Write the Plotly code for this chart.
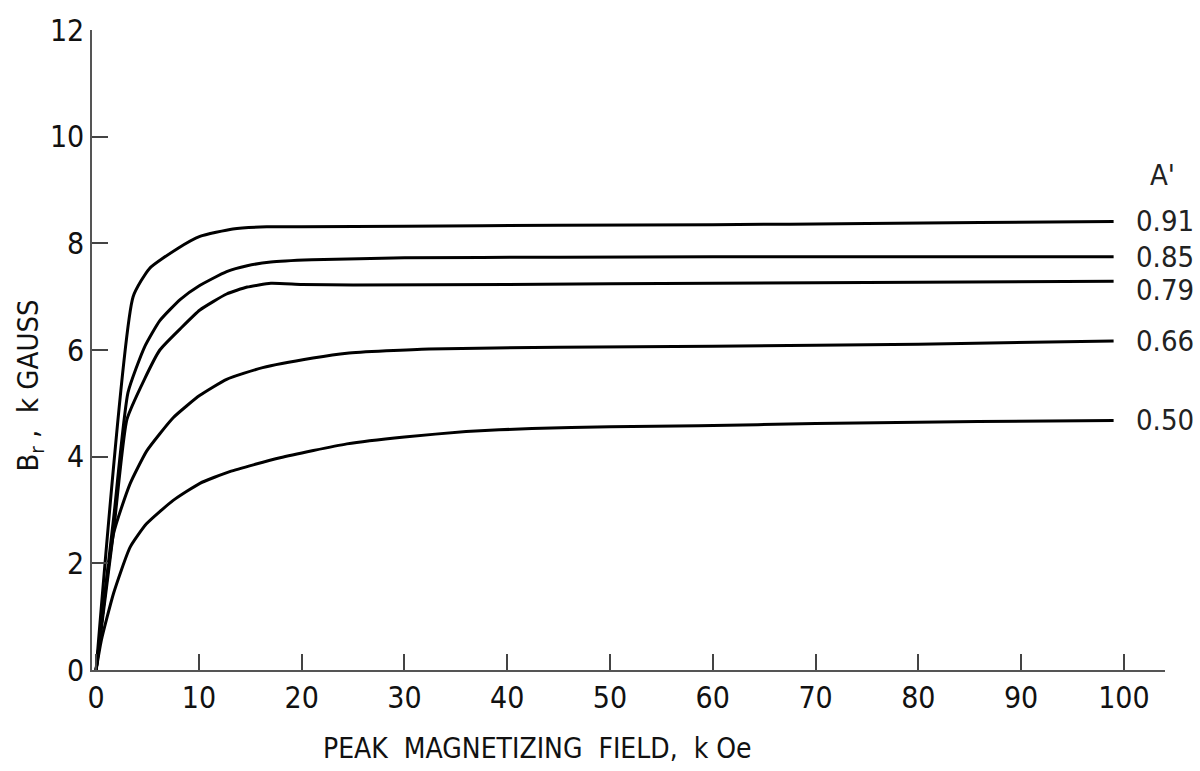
import plotly.graph_objects as go

# Peak magnetizing field (kOe) vs remanence Br (kGauss) for each A'
x_091 = [0, 3.6, 5.2, 7.9, 10.1, 13.3, 16.6, 20, 30, 45, 60, 75, 86, 99]
y_091 = [0, 7.0, 7.53, 7.9, 8.13, 8.27, 8.31, 8.31, 8.32, 8.34, 8.35, 8.37, 8.39, 8.41]

x_085 = [0, 1.7, 3.1, 4.7, 6.2, 8.2, 10, 12.7, 14.7, 17, 21, 30, 45, 60, 80, 99]
y_085 = [0, 2.84, 5.2, 6.05, 6.55, 6.95, 7.2, 7.47, 7.58, 7.65, 7.69, 7.73, 7.74, 7.75, 7.75, 7.75]

x_079 = [0, 1.7, 3.0, 4.7, 6.2, 8.2, 10.1, 12.7, 14.7, 17, 20, 25, 40, 60, 80, 99]
y_079 = [0, 2.6, 4.7, 5.45, 6.0, 6.4, 6.75, 7.05, 7.18, 7.25, 7.23, 7.22, 7.23, 7.25, 7.27, 7.29]

x_066 = [0, 1.7, 3.3, 4.9, 6.2, 7.5, 8.8, 10.1, 12.7, 16.2, 21.1, 24.4, 32.4, 45, 60, 80, 99]
y_066 = [0, 2.56, 3.49, 4.1, 4.43, 4.73, 4.95, 5.15, 5.45, 5.67, 5.85, 5.94, 6.02, 6.05, 6.07, 6.11, 6.17]

x_050 = [0, 0.5, 1.7, 3.3, 4.9, 7.5, 10.1, 13, 17.9, 24.4, 30, 36, 42.4, 50, 58.6, 70, 85.8, 99]
y_050 = [0, 0.55, 1.44, 2.3, 2.74, 3.18, 3.5, 3.72, 3.98, 4.24, 4.37, 4.47, 4.53, 4.56, 4.58, 4.62, 4.66, 4.68]

series_labels = ["0.91", "0.85", "0.79", "0.66", "0.50"]
series_x = [x_091, x_085, x_079, x_066, x_050]
series_y = [y_091, y_085, y_079, y_066, y_050]
label_shift = [0, 0, -9, 0, 0]

x_ticks = [0, 10, 20, 30, 40, 50, 60, 70, 80, 90, 100]
y_ticks = [0, 2, 4, 6, 8, 10, 12]

FONT = "Liberation Sans Narrow, Arial Narrow, DejaVu Sans Condensed, sans-serif"

fig = go.Figure()
for lab, xs, ys in zip(series_labels, series_x, series_y):
    fig.add_trace(go.Scatter(
        x=xs, y=ys, mode="lines", name=lab,
        line=dict(color="black", width=3, shape="spline", smoothing=0.5),
        showlegend=False, hoverinfo="skip"))

for lab, xs, ys, sh in zip(series_labels, series_x, series_y, label_shift):
    fig.add_annotation(x=101.0, y=ys[-1], text=lab, xref="x", yref="y",
                       xanchor="left", yanchor="middle", showarrow=False,
                       yshift=sh, font=dict(family=FONT, size=29, color="#222"))

fig.add_annotation(x=103.8, y=9.29, text="A'", xref="x", yref="y",
                   xanchor="center", yanchor="middle", showarrow=False,
                   font=dict(family=FONT, size=29, color="#222"))

fig.add_annotation(x=0.415, y=-0.122, xref="paper", yref="paper",
                   text="PEAK  MAGNETIZING  FIELD,  k Oe", showarrow=False,
                   xanchor="center", yanchor="middle",
                   font=dict(family=FONT, size=28, color="#111"))

fig.add_annotation(x=-0.058, y=0.444, xref="paper", yref="paper",
                   text="B<sub>r</sub> ,  k GAUSS", showarrow=False, textangle=-90,
                   xanchor="center", yanchor="middle",
                   font=dict(family=FONT, size=29, color="#111"))

fig.update_xaxes(range=[-0.4, 104], tickvals=x_ticks, ticktext=[str(v) for v in x_ticks],
                 ticks="inside", ticklen=16, tickwidth=1.5, tickcolor="#444",
                 showline=True, linecolor="#555", linewidth=1.5,
                 showgrid=False, zeroline=False,
                 tickfont=dict(family=FONT, size=30, color="#111"))
fig.update_yaxes(range=[0, 12], tickvals=y_ticks, ticktext=[str(v) for v in y_ticks],
                 ticks="inside", ticklen=16, tickwidth=1.5, tickcolor="#444",
                 showline=True, linecolor="#555", linewidth=1.5,
                 showgrid=False, zeroline=False,
                 tickfont=dict(family=FONT, size=30, color="#111"))

fig.update_layout(width=1200, height=771, paper_bgcolor="white", plot_bgcolor="white",
                  margin=dict(l=92, r=35, t=28, b=101))

fig.write_html("out.html")
